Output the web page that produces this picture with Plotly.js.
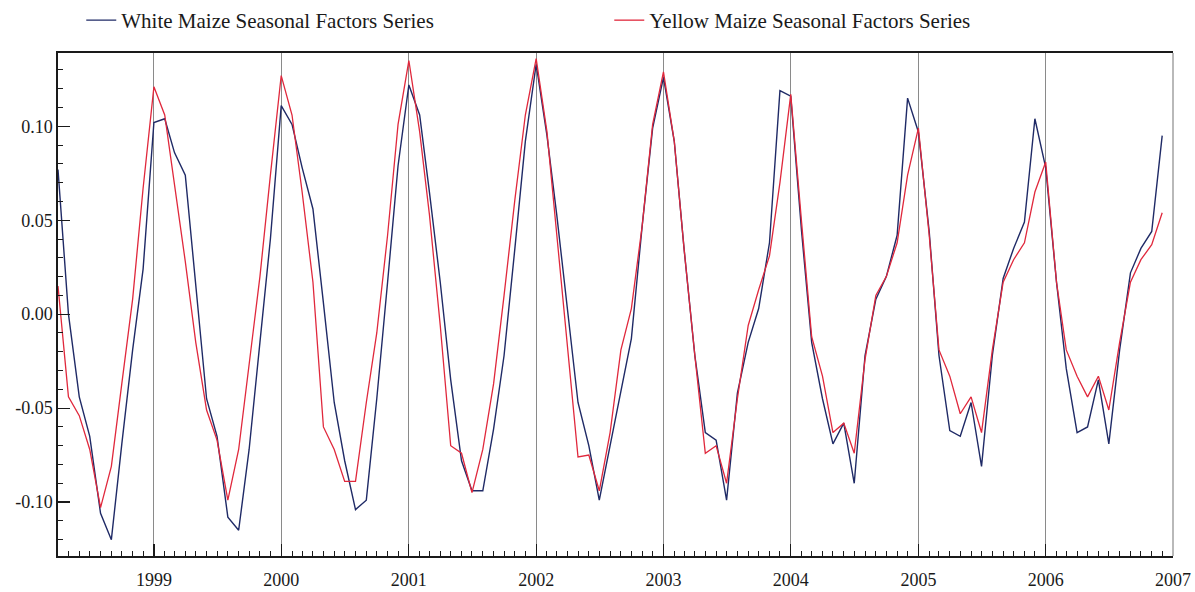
<!DOCTYPE html>
<html>
<head>
<meta charset="utf-8">
<script src="https://cdn.plot.ly/plotly-3.0.1.min.js"></script>
<style>
  html, body { margin: 0; padding: 0; background: #ffffff; }
  #chart { width: 1195px; height: 592px; }
</style>
</head>
<body>
<div id="chart"></div>
<script>
// Monthly seasonal factors, April 1998 – December 2006
const startYear = 1998;
const startMonth = 4;
const seriesNames = ["White Maize Seasonal Factors Series", "Yellow Maize Seasonal Factors Series"];

const whiteMaize = [
  0.077, 0.000, -0.044, -0.065, -0.106, -0.120, -0.069, -0.019, 0.024,
  0.102, 0.104, 0.086, 0.074, 0.017, -0.045, -0.065, -0.108, -0.115, -0.072, -0.015, 0.040,
  0.111, 0.101, 0.078, 0.056, 0.006, -0.047, -0.078, -0.104, -0.099, -0.045, 0.017, 0.079,
  0.122, 0.106, 0.065, 0.017, -0.035, -0.078, -0.094, -0.094, -0.061, -0.022, 0.035, 0.092,
  0.133, 0.095, 0.053, 0.001, -0.047, -0.070, -0.099, -0.070, -0.042, -0.013, 0.047, 0.099,
  0.126, 0.092, 0.035, -0.022, -0.063, -0.067, -0.099, -0.042, -0.015, 0.003, 0.038, 0.119,
  0.116, 0.044, -0.015, -0.045, -0.069, -0.058, -0.090, -0.022, 0.008, 0.020, 0.042, 0.115,
  0.097, 0.044, -0.022, -0.062, -0.065, -0.047, -0.081, -0.022, 0.019, 0.035, 0.049, 0.104,
  0.078, 0.017, -0.029, -0.063, -0.060, -0.035, -0.069, -0.019, 0.022, 0.035, 0.044, 0.095
];

const yellowMaize = [
  0.015, -0.044, -0.054, -0.072, -0.103, -0.081, -0.037, 0.008, 0.067,
  0.121, 0.106, 0.070, 0.028, -0.015, -0.051, -0.067, -0.099, -0.072, -0.028, 0.020, 0.074,
  0.127, 0.106, 0.065, 0.017, -0.060, -0.072, -0.089, -0.089, -0.047, -0.010, 0.042, 0.101,
  0.135, 0.097, 0.053, -0.006, -0.070, -0.074, -0.095, -0.072, -0.037, 0.010, 0.061, 0.106,
  0.136, 0.097, 0.042, -0.019, -0.076, -0.075, -0.094, -0.063, -0.019, 0.003, 0.047, 0.101,
  0.129, 0.092, 0.035, -0.022, -0.074, -0.070, -0.090, -0.045, -0.006, 0.013, 0.031, 0.070,
  0.117, 0.049, -0.012, -0.033, -0.063, -0.058, -0.074, -0.024, 0.010, 0.020, 0.038, 0.074,
  0.099, 0.042, -0.019, -0.033, -0.053, -0.044, -0.063, -0.019, 0.017, 0.029, 0.038, 0.065,
  0.081, 0.017, -0.019, -0.033, -0.044, -0.033, -0.051, -0.015, 0.017, 0.029, 0.037, 0.054
];

const yTickVals = [-0.10, -0.05, 0.00, 0.05, 0.10];
const yTickText = ["-0.10", "-0.05", "0.00", "0.05", "0.10"];

// month dates for the category axis
const months = whiteMaize.map(function (_, i) {
  const m0 = startMonth - 1 + i;
  const y = startYear + Math.floor(m0 / 12);
  const m = (m0 % 12) + 1;
  return y + "-" + (m < 10 ? "0" + m : m) + "-01";
});

const serif = "Liberation Serif, Times New Roman, serif";

const traces = [
  {
    x: months, y: whiteMaize, name: seriesNames[0], type: "scatter", mode: "lines",
    line: { color: "#1f2a66", width: 1.4 }
  },
  {
    x: months, y: yellowMaize, name: seriesNames[1], type: "scatter", mode: "lines",
    line: { color: "#e0283c", width: 1.3 }
  }
];

const layout = {
  width: 1195, height: 592,
  margin: { l: 58, r: 22, t: 53, b: 36 },
  paper_bgcolor: "#ffffff", plot_bgcolor: "#ffffff",
  font: { family: serif, size: 18, color: "#1a1a1a" },
  showlegend: true,
  legend: {
    orientation: "h",
    xref: "container", yref: "container",
    x: 0.068, y: 1, xanchor: "left", yanchor: "top",
    font: { family: serif, size: 21, color: "#1a1a1a" },
    itemwidth: 30,
    entrywidth: 483, entrywidthmode: "pixels",
    bgcolor: "rgba(0,0,0,0)"
  },
  xaxis: {
    type: "date",
    range: ["1998-04-01", "2007-01-01"],
    tick0: "1999-01-01", dtick: "M12", tickformat: "%Y",
    ticks: "inside", ticklen: 12, tickwidth: 1.2, tickcolor: "#1a1a1a",
    ticklabelstandoff: 7,
    showgrid: true, gridcolor: "#8a8a8a", gridwidth: 1,
    showline: true, linecolor: "#1a1a1a", linewidth: 1.6, mirror: true,
    zeroline: false,
    minor: { dtick: "M1", tick0: "1999-01-01", ticks: "inside", ticklen: 5, tickcolor: "#1a1a1a", tickwidth: 1, showgrid: false },
    tickfont: { family: serif, size: 18, color: "#1a1a1a" }
  },
  yaxis: {
    range: [-0.1287, 0.139],
    tickvals: yTickVals, ticktext: yTickText,
    ticks: "inside", ticklen: 12, tickwidth: 1.2, tickcolor: "#1a1a1a",
    showgrid: false, zeroline: false,
    showline: true, linecolor: "#1a1a1a", linewidth: 1.6, mirror: false,
    minor: { dtick: 0.01, tick0: 0, ticks: "inside", ticklen: 5, tickcolor: "#1a1a1a", tickwidth: 1, showgrid: false },
    tickfont: { family: serif, size: 18, color: "#1a1a1a" }
  },
  shapes: [
    { type: "line", xref: "paper", yref: "paper", x0: 1, x1: 1, y0: 0, y1: 1,
      line: { color: "#8a8a8a", width: 1.2 } }
  ]
};

Plotly.newPlot("chart", traces, layout, { displayModeBar: false, staticPlot: true });
</script>
</body>
</html>
